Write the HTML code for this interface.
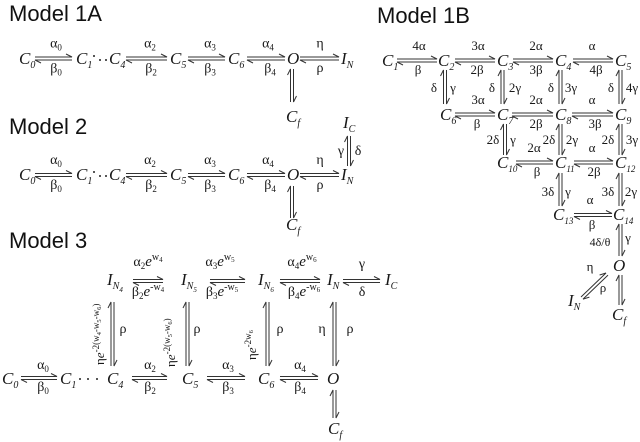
<!DOCTYPE html>
<html><head><meta charset="utf-8">
<style>
html,body{margin:0;padding:0;background:#fff;}
svg{display:block}
text{font-family:"Liberation Serif",serif;fill:#181818}
.n{font-style:italic;font-size:17px}
.l{font-size:14px}
.m{font-size:13px}
.t{font-family:"Liberation Sans",sans-serif;font-size:22px;fill:#111}
path{stroke:#333;stroke-width:1;fill:none}
</style></head><body>
<svg width="640" height="442" viewBox="0 0 640 442" xmlns="http://www.w3.org/2000/svg">
<!-- Titles -->
<text class="t" x="9" y="21">Model 1A</text>
<text class="t" x="377" y="23">Model 1B</text>
<text class="t" x="9" y="134">Model 2</text>
<text class="t" x="9" y="248">Model 3</text>

<!-- ===== Model 1A ===== -->
<text class="n" x="19" y="64">C<tspan font-size="10" dy="4">0</tspan></text>
<text class="n" x="76" y="64">C<tspan font-size="10" dy="4">1</tspan></text>
<circle cx="94" cy="56" r="1" fill="#222"/><circle cx="100" cy="60" r="1" fill="#222"/><circle cx="106" cy="60" r="1" fill="#222"/>
<text class="n" x="109" y="64">C<tspan font-size="10" dy="4">4</tspan></text>
<text class="n" x="170" y="64">C<tspan font-size="10" dy="4">5</tspan></text>
<text class="n" x="228" y="64">C<tspan font-size="10" dy="4">6</tspan></text>
<text class="n" x="287" y="64">O</text>
<text class="n" x="341" y="64">I<tspan font-size="10" dy="4">N</tspan></text>
<text class="n" x="286" y="122">C<tspan font-size="10" dy="4">f</tspan></text>
<path d="M35 57H72l-6-3M72 60H35l6 3"/>
<path d="M126 57H167l-6-3M167 60H126l6 3"/>
<path d="M188 57H225l-6-3M225 60H188l6 3"/>
<path d="M247 57H285l-6-3M285 60H247l6 3"/>
<path d="M300 57H339l-6-3M339 60H300l6 3"/>
<path d="M290.5 102V69l-3 6M293.5 69V102l3-6"/>
<text class="l" x="56" y="47.5" text-anchor="middle">α<tspan font-size="9" dy="3">0</tspan></text>
<text class="l" x="56" y="72.5" text-anchor="middle">β<tspan font-size="9" dy="3">0</tspan></text>
<text class="l" x="150" y="47.5" text-anchor="middle">α<tspan font-size="9" dy="3">2</tspan></text>
<text class="l" x="151" y="72.5" text-anchor="middle">β<tspan font-size="9" dy="3">2</tspan></text>
<text class="l" x="210" y="47.5" text-anchor="middle">α<tspan font-size="9" dy="3">3</tspan></text>
<text class="l" x="210" y="72.5" text-anchor="middle">β<tspan font-size="9" dy="3">3</tspan></text>
<text class="l" x="268" y="47.5" text-anchor="middle">α<tspan font-size="9" dy="3">4</tspan></text>
<text class="l" x="270" y="72.5" text-anchor="middle">β<tspan font-size="9" dy="3">4</tspan></text>
<text class="l" x="320" y="47.5" text-anchor="middle">η</text>
<text class="l" x="320" y="72" text-anchor="middle">ρ</text>

<!-- ===== Model 2 ===== -->
<text class="n" x="19" y="180">C<tspan font-size="10" dy="4">0</tspan></text>
<text class="n" x="76" y="180">C<tspan font-size="10" dy="4">1</tspan></text>
<circle cx="94" cy="172" r="1" fill="#222"/><circle cx="100" cy="176" r="1" fill="#222"/><circle cx="106" cy="176" r="1" fill="#222"/>
<text class="n" x="109" y="180">C<tspan font-size="10" dy="4">4</tspan></text>
<text class="n" x="170" y="180">C<tspan font-size="10" dy="4">5</tspan></text>
<text class="n" x="228" y="180">C<tspan font-size="10" dy="4">6</tspan></text>
<text class="n" x="287" y="180">O</text>
<text class="n" x="341" y="180">I<tspan font-size="10" dy="4">N</tspan></text>
<text class="n" x="286" y="230">C<tspan font-size="10" dy="4">f</tspan></text>
<text class="n" x="343" y="128">I<tspan font-size="10" dy="4">C</tspan></text>
<path d="M35 173.5H72l-6-3M72 176.5H35l6 3"/>
<path d="M126 173.5H167l-6-3M167 176.5H126l6 3"/>
<path d="M188 173.5H225l-6-3M225 176.5H188l6 3"/>
<path d="M247 173.5H285l-6-3M285 176.5H247l6 3"/>
<path d="M300 173.5H339l-6-3M339 176.5H300l6 3"/>
<path d="M290.5 218V186l-3 6M293.5 186V218l3-6"/>
<path d="M347.5 166V136l-3 6M350.5 136V166l3-6"/>
<text class="l" x="56" y="164" text-anchor="middle">α<tspan font-size="9" dy="3">0</tspan></text>
<text class="l" x="56" y="189" text-anchor="middle">β<tspan font-size="9" dy="3">0</tspan></text>
<text class="l" x="150" y="164" text-anchor="middle">α<tspan font-size="9" dy="3">2</tspan></text>
<text class="l" x="151" y="189" text-anchor="middle">β<tspan font-size="9" dy="3">2</tspan></text>
<text class="l" x="210" y="164" text-anchor="middle">α<tspan font-size="9" dy="3">3</tspan></text>
<text class="l" x="210" y="189" text-anchor="middle">β<tspan font-size="9" dy="3">3</tspan></text>
<text class="l" x="268" y="164" text-anchor="middle">α<tspan font-size="9" dy="3">4</tspan></text>
<text class="l" x="270" y="189" text-anchor="middle">β<tspan font-size="9" dy="3">4</tspan></text>
<text class="l" x="320" y="164" text-anchor="middle">η</text>
<text class="l" x="320" y="189" text-anchor="middle">ρ</text>
<text class="l" x="341" y="155" text-anchor="middle">γ</text>
<text class="l" x="358" y="155" text-anchor="middle">δ</text>

<!-- ===== Model 3 ===== -->
<!-- top row -->
<text class="n" x="107" y="285">I<tspan font-size="10" dy="4">N</tspan><tspan font-size="7" dy="3">4</tspan></text>
<text class="n" x="181" y="285">I<tspan font-size="10" dy="4">N</tspan><tspan font-size="7" dy="3">5</tspan></text>
<text class="n" x="258" y="285">I<tspan font-size="10" dy="4">N</tspan><tspan font-size="7" dy="3">6</tspan></text>
<text class="n" x="327" y="285">I<tspan font-size="10" dy="4">N</tspan></text>
<text class="n" x="385" y="285">I<tspan font-size="10" dy="4">C</tspan></text>
<path d="M133 279.5H163l-6-3M163 282.5H133l6 3"/>
<path d="M210 279.5H245l-6-3M245 282.5H210l6 3"/>
<path d="M280 279.5H320l-6-3M320 282.5H280l6 3"/>
<path d="M343 279.5H380l-6-3M380 282.5H343l6 3"/>
<text class="l" x="148" y="266" text-anchor="middle">α<tspan font-size="9" dy="3">2</tspan><tspan font-style="italic" font-size="15" dy="-3">e</tspan><tspan font-size="10" dy="-6">w</tspan><tspan font-size="7" dy="2">4</tspan></text>
<text class="l" x="148" y="296" text-anchor="middle">β<tspan font-size="9" dy="3">2</tspan><tspan font-style="italic" font-size="15" dy="-3">e</tspan><tspan font-size="10" dy="-6">-w</tspan><tspan font-size="7" dy="2">4</tspan></text>
<text class="l" x="220" y="266" text-anchor="middle">α<tspan font-size="9" dy="3">3</tspan><tspan font-style="italic" font-size="15" dy="-3">e</tspan><tspan font-size="10" dy="-6">w</tspan><tspan font-size="7" dy="2">5</tspan></text>
<text class="l" x="222" y="296" text-anchor="middle">β<tspan font-size="9" dy="3">3</tspan><tspan font-style="italic" font-size="15" dy="-3">e</tspan><tspan font-size="10" dy="-6">-w</tspan><tspan font-size="7" dy="2">5</tspan></text>
<text class="l" x="302" y="266" text-anchor="middle">α<tspan font-size="9" dy="3">4</tspan><tspan font-style="italic" font-size="15" dy="-3">e</tspan><tspan font-size="10" dy="-6">w</tspan><tspan font-size="7" dy="2">6</tspan></text>
<text class="l" x="304" y="296" text-anchor="middle">β<tspan font-size="9" dy="3">4</tspan><tspan font-style="italic" font-size="15" dy="-3">e</tspan><tspan font-size="10" dy="-6">-w</tspan><tspan font-size="7" dy="2">6</tspan></text>
<text class="l" x="362" y="268" text-anchor="middle">γ</text>
<text class="l" x="362" y="296" text-anchor="middle">δ</text>
<!-- verticals -->
<path d="M111 366V302l-3 6M114 302V366l3-6"/>
<path d="M186 366V302l-3 6M189 302V366l3-6"/>
<path d="M266 366V302l-3 6M269 302V366l3-6"/>
<path d="M333 366V302l-3 6M336 302V366l3-6"/>
<text font-size="13" transform="translate(104,365) rotate(-90)">η<tspan font-style="italic">e</tspan><tspan font-size="9" dy="-5">-2(w</tspan><tspan font-size="6.5" dy="2">4</tspan><tspan font-size="9" dy="-2">-w</tspan><tspan font-size="6.5" dy="2">5</tspan><tspan font-size="9" dy="-2">-w</tspan><tspan font-size="6.5" dy="2">6</tspan><tspan font-size="9" dy="-2">)</tspan></text>
<text font-size="13" transform="translate(175,367) rotate(-90)">η<tspan font-style="italic">e</tspan><tspan font-size="9" dy="-5">-2(w</tspan><tspan font-size="6.5" dy="2">5</tspan><tspan font-size="9" dy="-2">-w</tspan><tspan font-size="6.5" dy="2">6</tspan><tspan font-size="9" dy="-2">)</tspan></text>
<text font-size="13" transform="translate(256,360) rotate(-90)">η<tspan font-style="italic">e</tspan><tspan font-size="9" dy="-5">-2w</tspan><tspan font-size="6.5" dy="2">6</tspan></text>
<text class="l" x="123" y="333" text-anchor="middle">ρ</text>
<text class="l" x="197" y="333" text-anchor="middle">ρ</text>
<text class="l" x="280" y="333" text-anchor="middle">ρ</text>
<text class="l" x="322" y="333" text-anchor="middle">η</text>
<text class="l" x="350" y="333" text-anchor="middle">ρ</text>
<!-- bottom row -->
<text class="n" x="2" y="384">C<tspan font-size="10" dy="4">0</tspan></text>
<text class="n" x="60" y="384">C<tspan font-size="10" dy="4">1</tspan></text>
<circle cx="80" cy="379" r="1" fill="#222"/><circle cx="88" cy="379" r="1" fill="#222"/><circle cx="97" cy="379" r="1" fill="#222"/>
<text class="n" x="107" y="384">C<tspan font-size="10" dy="4">4</tspan></text>
<text class="n" x="182" y="384">C<tspan font-size="10" dy="4">5</tspan></text>
<text class="n" x="258" y="384">C<tspan font-size="10" dy="4">6</tspan></text>
<text class="n" x="327" y="384">O</text>
<text class="n" x="328" y="434">C<tspan font-size="10" dy="4">f</tspan></text>
<path d="M21 376.5H57l-6-3M57 379.5H21l6 3"/>
<path d="M132 376.5H167l-6-3M167 379.5H132l6 3"/>
<path d="M207 376.5H245l-6-3M245 379.5H207l6 3"/>
<path d="M280 376.5H318l-6-3M318 379.5H280l6 3"/>
<path d="M333 418V390l-3 6M336 390V418l3-6"/>
<text class="l" x="43" y="369" text-anchor="middle">α<tspan font-size="9" dy="3">0</tspan></text>
<text class="l" x="43" y="391" text-anchor="middle">β<tspan font-size="9" dy="3">0</tspan></text>
<text class="l" x="150" y="369" text-anchor="middle">α<tspan font-size="9" dy="3">2</tspan></text>
<text class="l" x="150" y="391" text-anchor="middle">β<tspan font-size="9" dy="3">2</tspan></text>
<text class="l" x="228" y="369" text-anchor="middle">α<tspan font-size="9" dy="3">3</tspan></text>
<text class="l" x="228" y="391" text-anchor="middle">β<tspan font-size="9" dy="3">3</tspan></text>
<text class="l" x="300" y="369" text-anchor="middle">α<tspan font-size="9" dy="3">4</tspan></text>
<text class="l" x="300" y="391" text-anchor="middle">β<tspan font-size="9" dy="3">4</tspan></text>

<!-- ===== Model 1B ===== -->
<text class="n" x="382" y="66">C<tspan font-size="10" dy="4">1</tspan></text>
<text class="n" x="438" y="66">C<tspan font-size="10" dy="4">2</tspan></text>
<text class="n" x="497" y="66">C<tspan font-size="10" dy="4">3</tspan></text>
<text class="n" x="555" y="66">C<tspan font-size="10" dy="4">4</tspan></text>
<text class="n" x="615" y="66">C<tspan font-size="10" dy="4">5</tspan></text>
<text class="n" x="440" y="120">C<tspan font-size="10" dy="4">6</tspan></text>
<text class="n" x="497" y="120">C<tspan font-size="10" dy="4">7</tspan></text>
<text class="n" x="555" y="120">C<tspan font-size="10" dy="4">8</tspan></text>
<text class="n" x="615" y="120">C<tspan font-size="10" dy="4">9</tspan></text>
<text class="n" x="497" y="168">C<tspan font-size="9" dy="4">10</tspan></text>
<text class="n" x="555" y="168">C<tspan font-size="9" dy="4">11</tspan></text>
<text class="n" x="615" y="168">C<tspan font-size="9" dy="4">12</tspan></text>
<text class="n" x="553" y="220">C<tspan font-size="9" dy="4">13</tspan></text>
<text class="n" x="613" y="220">C<tspan font-size="9" dy="4">14</tspan></text>
<text class="n" x="613" y="271">O</text>
<text class="n" x="568" y="306">I<tspan font-size="10" dy="4">N</tspan></text>
<text class="n" x="612" y="320">C<tspan font-size="10" dy="4">f</tspan></text>
<!-- row 1 arrows -->
<path d="M397 59H437l-6-3M437 62H397l6 3"/>
<path d="M455 59H495l-6-3M495 62H455l6 3"/>
<path d="M513 59H553l-6-3M553 62H513l6 3"/>
<path d="M573 59H613l-6-3M613 62H573l6 3"/>
<text class="m" x="419" y="50" text-anchor="middle">4α</text>
<text class="m" x="418" y="74" text-anchor="middle">β</text>
<text class="m" x="478" y="50" text-anchor="middle">3α</text>
<text class="m" x="477" y="74" text-anchor="middle">2β</text>
<text class="m" x="536" y="50" text-anchor="middle">2α</text>
<text class="m" x="536" y="74" text-anchor="middle">3β</text>
<text class="m" x="592" y="50" text-anchor="middle">α</text>
<text class="m" x="596" y="74" text-anchor="middle">4β</text>
<!-- row1-2 verticals -->
<path d="M443.5 104V70l-3 6M446.5 70V104l3-6"/>
<path d="M501 104V70l-3 6M504 70V104l3-6"/>
<path d="M559 104V70l-3 6M562 70V104l3-6"/>
<path d="M619 104V70l-3 6M622 70V104l3-6"/>
<text class="m" x="434" y="92" text-anchor="middle">δ</text>
<text class="m" x="453" y="92" text-anchor="middle">γ</text>
<text class="m" x="492" y="92" text-anchor="middle">δ</text>
<text class="m" x="515" y="92" text-anchor="middle">2γ</text>
<text class="m" x="551" y="92" text-anchor="middle">δ</text>
<text class="m" x="571" y="92" text-anchor="middle">3γ</text>
<text class="m" x="611" y="92" text-anchor="middle">δ</text>
<text class="m" x="632" y="92" text-anchor="middle">4γ</text>
<!-- row 2 arrows -->
<path d="M455 113H495l-6-3M495 116H455l6 3"/>
<path d="M512 113H553l-6-3M553 116H512l6 3"/>
<path d="M572 113H613l-6-3M613 116H572l6 3"/>
<text class="m" x="478" y="104" text-anchor="middle">3α</text>
<text class="m" x="477" y="128" text-anchor="middle">β</text>
<text class="m" x="536" y="104" text-anchor="middle">2α</text>
<text class="m" x="536" y="128" text-anchor="middle">2β</text>
<text class="m" x="592" y="104" text-anchor="middle">α</text>
<text class="m" x="595" y="128" text-anchor="middle">3β</text>
<!-- row2-3 verticals -->
<path d="M503.5 155V124l-3 6M506.5 124V155l3-6"/>
<path d="M559 155V124l-3 6M562 124V155l3-6"/>
<path d="M619 155V124l-3 6M622 124V155l3-6"/>
<text class="m" x="493" y="144" text-anchor="middle">2δ</text>
<text class="m" x="513" y="144" text-anchor="middle">γ</text>
<text class="m" x="549" y="144" text-anchor="middle">2δ</text>
<text class="m" x="572" y="144" text-anchor="middle">2γ</text>
<text class="m" x="608" y="144" text-anchor="middle">2δ</text>
<text class="m" x="632" y="144" text-anchor="middle">3γ</text>
<!-- row 3 arrows -->
<path d="M516 161H553l-6-3M553 164H516l6 3"/>
<path d="M574 161H613l-6-3M613 164H574l6 3"/>
<text class="m" x="534" y="152" text-anchor="middle">2α</text>
<text class="m" x="537" y="176" text-anchor="middle">β</text>
<text class="m" x="592" y="152" text-anchor="middle">α</text>
<text class="m" x="594" y="176" text-anchor="middle">2β</text>
<!-- row3-4 verticals -->
<path d="M559 206V173l-3 6M562 173V206l3-6"/>
<path d="M619 206V173l-3 6M622 173V206l3-6"/>
<text class="m" x="548" y="196" text-anchor="middle">3δ</text>
<text class="m" x="568" y="196" text-anchor="middle">γ</text>
<text class="m" x="608" y="196" text-anchor="middle">3δ</text>
<text class="m" x="631" y="196" text-anchor="middle">2γ</text>
<!-- row 4 -->
<path d="M574 213.5H612l-6-3M612 216.5H574l6 3"/>
<text class="m" x="590" y="204" text-anchor="middle">α</text>
<text class="m" x="592" y="229" text-anchor="middle">β</text>
<!-- C14 - O -->
<path d="M619 256V224l-3 6M622 224V256l3-6"/>
<text font-size="12" x="600" y="246" text-anchor="middle">4δ/θ</text>
<text class="m" x="628" y="242" text-anchor="middle">γ</text>
<!-- O - Cf -->
<path d="M619 305V275l-3 6M622 275V305l3-6"/>
<!-- O - IN diagonal -->
<path d="M581 297L606 273l-6.4 2M608 275.1L583 299.1l6.4-2"/>
<text class="m" x="590" y="271" text-anchor="middle">η</text>
<text class="m" x="603" y="292" text-anchor="middle">ρ</text>
</svg>
</body></html>
